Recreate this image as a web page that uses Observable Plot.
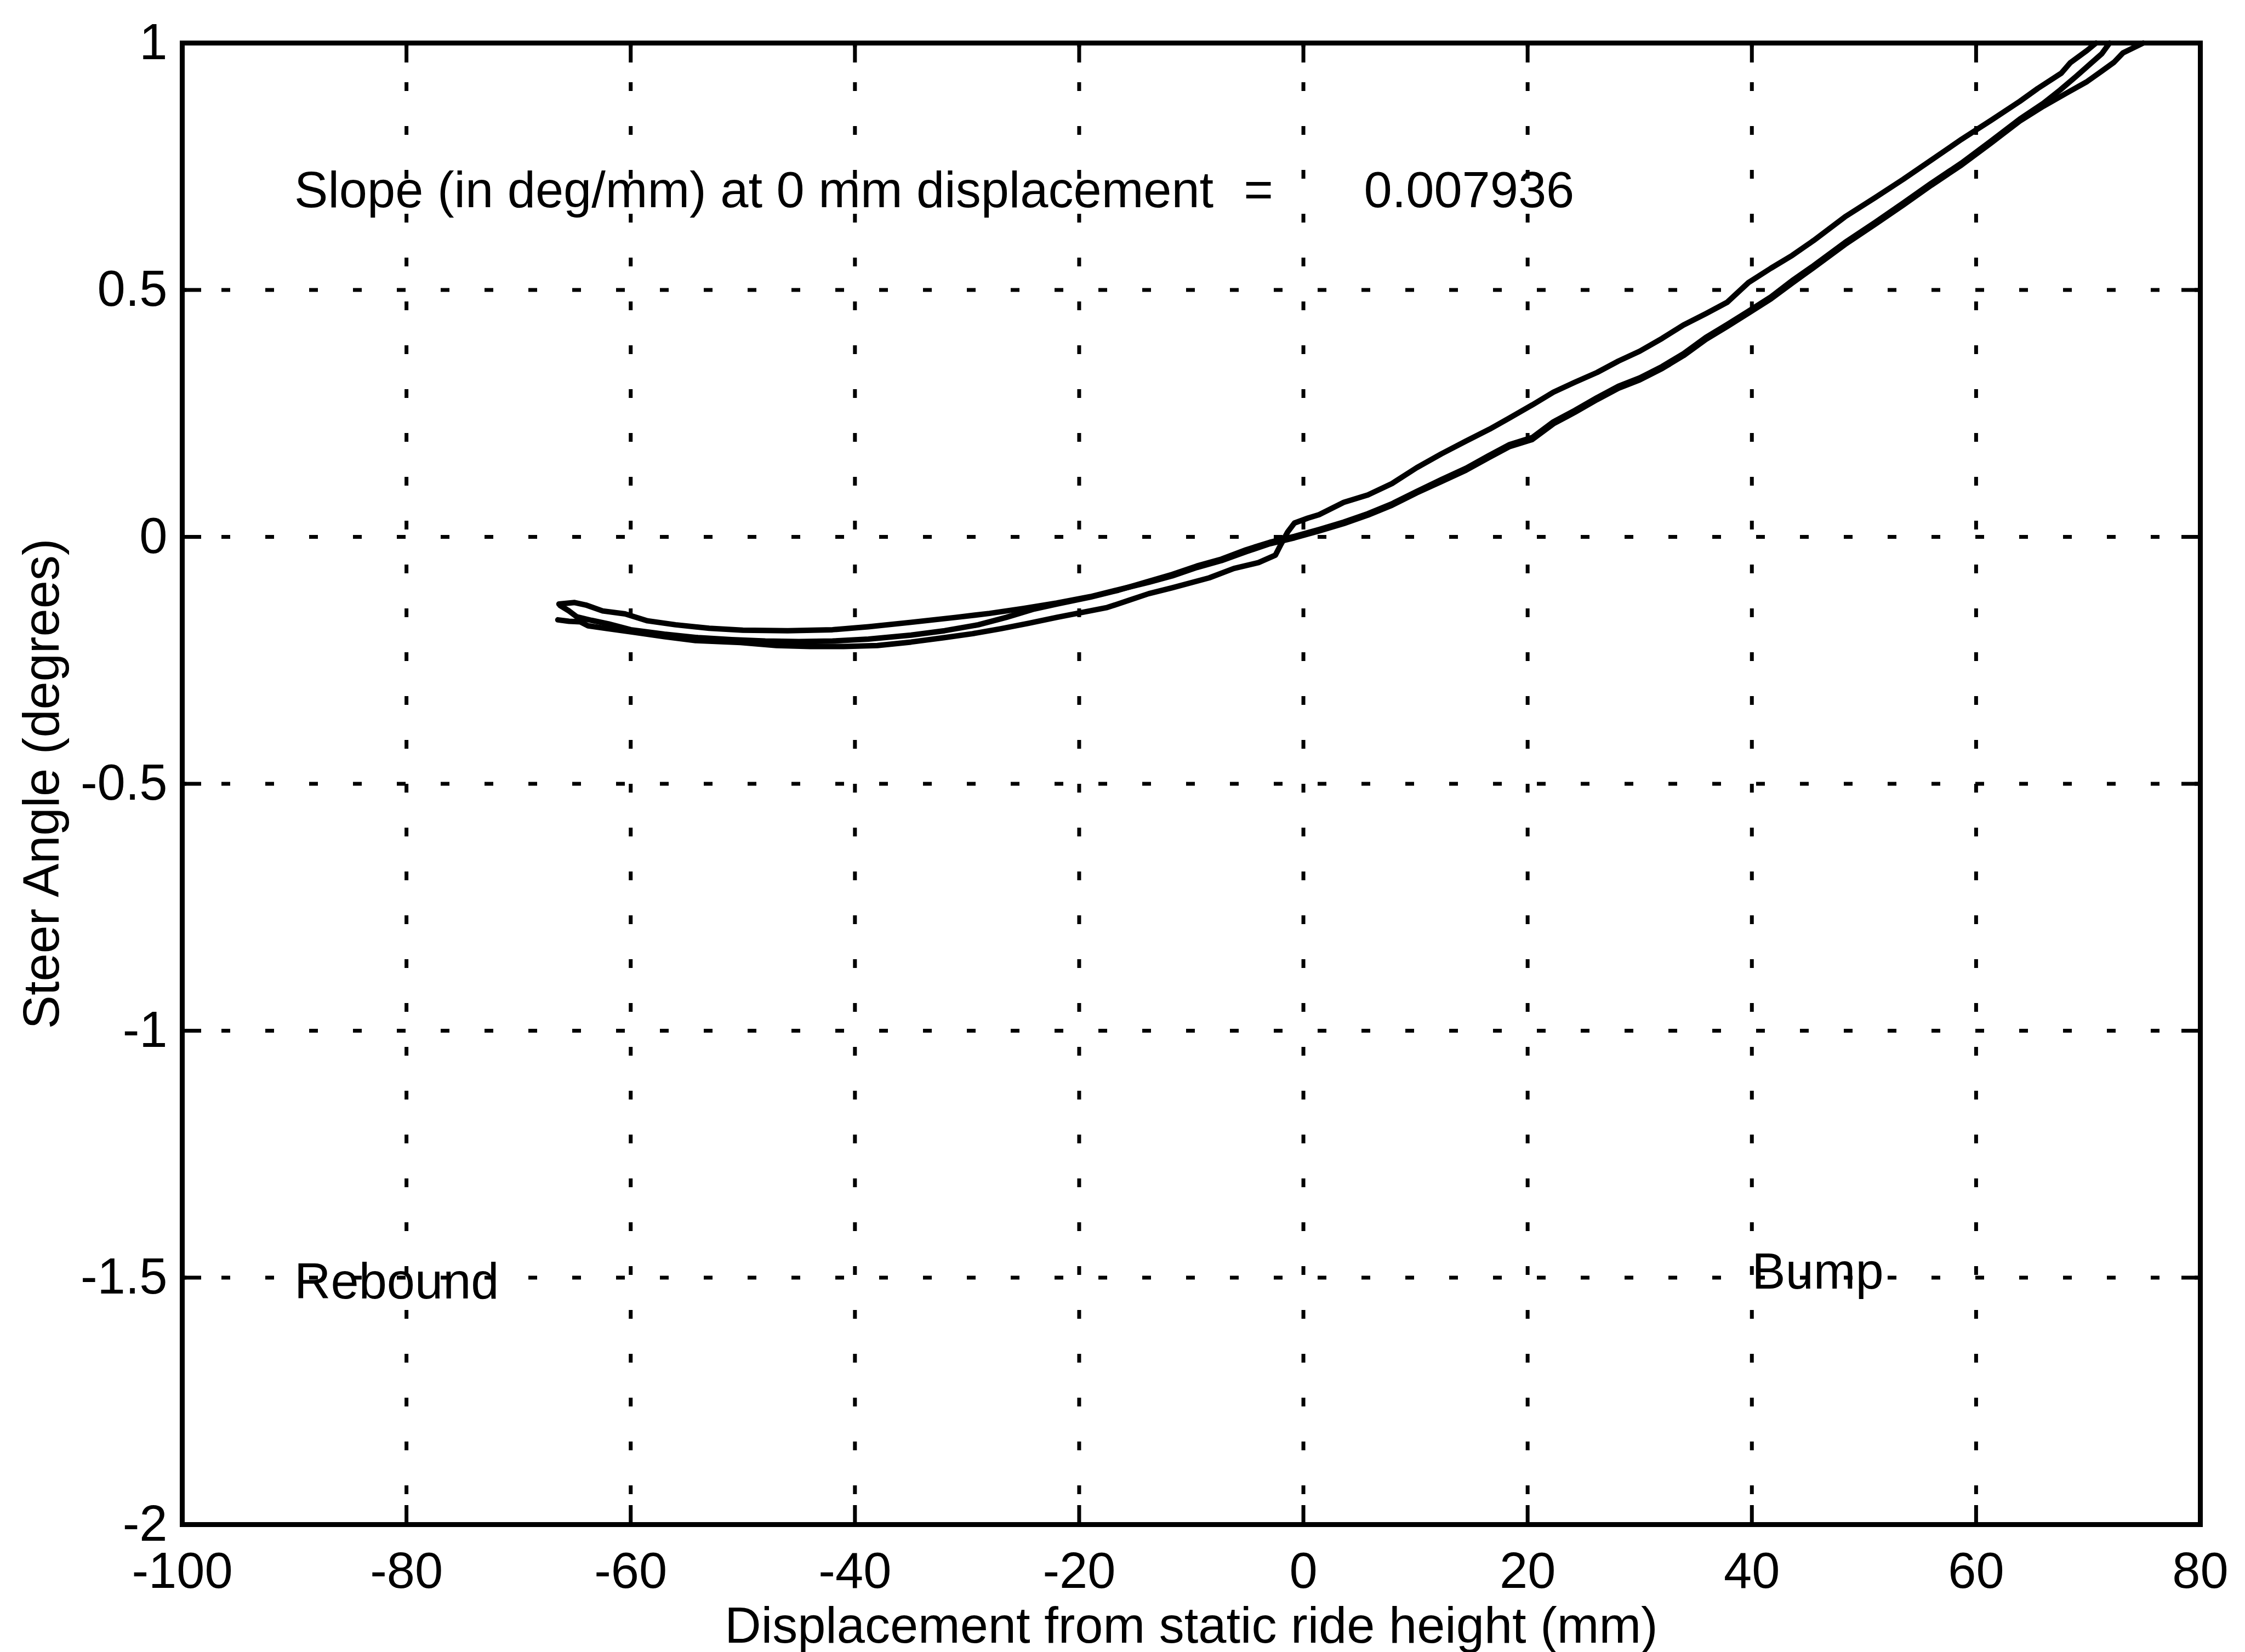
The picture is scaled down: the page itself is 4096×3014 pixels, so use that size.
<!DOCTYPE html>
<html><head><meta charset="utf-8">
<script src="https://cdn.jsdelivr.net/npm/d3@7"></script>
<script src="https://cdn.jsdelivr.net/npm/@observablehq/plot@0.6"></script>
<style>html,body{margin:0;padding:0;background:#fff;overflow:hidden}</style>
</head><body><div id="chart"></div>
<script>
// Tick values
const xTicks = [-100, -80, -60, -40, -20, 0, 20, 40, 60, 80];
const yTicks = [-2, -1.5, -1, -0.5, 0, 0.5, 1];

// Measured traces: [displacement (mm), steer angle (deg)]
const loopA = [[-66.4,-0.136],[-65,-0.133],[-64,-0.138],[-62.5,-0.150],[-60.5,-0.156],[-58.5,-0.170],[-56,-0.178],[-53,-0.185],[-50,-0.189],[-46,-0.190],[-42,-0.188],[-38.8,-0.182],[-35,-0.173],[-31,-0.163],[-28,-0.155],[-25,-0.145],[-22,-0.134],[-19,-0.121],[-16.5,-0.107],[-13.8,-0.092],[-11.7,-0.079],[-9.5,-0.062],[-7.3,-0.048],[-5.1,-0.030],[-3,-0.014],[-0.8,-0.002],[1.4,0.012],[3.6,0.027],[5.75,0.044],[7.9,0.064],[10.1,0.089],[12.3,0.112],[14.5,0.135],[16.5,0.160],[18.4,0.183],[20.4,0.197],[22.3,0.229],[24.2,0.252],[26.2,0.278],[28.1,0.301],[30,0.318],[32,0.341],[33.9,0.367],[35.9,0.400],[37.8,0.426],[39.7,0.453],[41.7,0.482],[43.6,0.514],[45.5,0.545],[48.3,0.592],[51,0.633],[53.5,0.672],[56,0.712],[58.7,0.753],[61.3,0.797],[63.9,0.842],[66,0.872],[68.1,0.899],[69.9,0.922],[71.2,0.943],[72.3,0.961],[73.1,0.980],[74.9,1.0]];
const loopB = [[-66.3,-0.139],[-65.5,-0.150],[-64.8,-0.162],[-63.5,-0.169],[-62,-0.176],[-60,-0.188],[-57,-0.197],[-54,-0.204],[-51,-0.208],[-48,-0.211],[-45,-0.212],[-42,-0.211],[-38.8,-0.207],[-35,-0.199],[-32,-0.190],[-29,-0.178],[-26.5,-0.163],[-24,-0.146],[-22,-0.136],[-19,-0.122],[-16.5,-0.108],[-13.8,-0.090],[-11.7,-0.076],[-9.5,-0.059],[-7.3,-0.045],[-5.1,-0.026],[-3,-0.011],[-0.8,0.001],[1.4,0.015],[3.6,0.030],[5.75,0.047],[7.9,0.067],[10.1,0.092],[12.3,0.116],[14.5,0.139],[16.5,0.164],[18.4,0.187],[20.4,0.201],[22.3,0.233],[24.2,0.256],[26.2,0.282],[28.1,0.305],[30,0.322],[32,0.345],[33.9,0.371],[35.9,0.404],[37.8,0.430],[39.7,0.457],[41.7,0.486],[43.6,0.519],[45.5,0.549],[48.3,0.596],[51,0.637],[53.5,0.676],[56,0.716],[58.7,0.757],[61.3,0.801],[63.9,0.846],[66,0.878],[67.5,0.905],[68.9,0.932],[70.2,0.958],[71.2,0.978],[71.9,1.0]];
const loopC = [[-66.5,-0.168],[-65.5,-0.171],[-64.5,-0.172],[-63.8,-0.180],[-62,-0.186],[-59.8,-0.193],[-57,-0.202],[-54.2,-0.210],[-50.2,-0.214],[-47,-0.220],[-44,-0.222],[-41,-0.222],[-38,-0.220],[-35,-0.213],[-32,-0.204],[-29.5,-0.196],[-27,-0.186],[-24.5,-0.175],[-22,-0.163],[-19.5,-0.152],[-17.5,-0.143],[-15.5,-0.128],[-13.8,-0.115],[-11.7,-0.103],[-8.4,-0.083],[-6.2,-0.064],[-4,-0.052],[-2.5,-0.037],[-2,-0.015],[-1.4,0.010],[-0.8,0.028],[0.4,0.038],[1.4,0.045],[3.6,0.070],[5.75,0.085],[7.9,0.108],[10.1,0.140],[12.3,0.168],[14.5,0.194],[16.6,0.218],[18.4,0.241],[20.4,0.267],[22.3,0.293],[24.2,0.313],[26.2,0.333],[28.1,0.356],[30,0.376],[32,0.402],[33.9,0.429],[35.9,0.452],[37.8,0.475],[39.7,0.515],[41.7,0.544],[43.6,0.570],[45.5,0.600],[48.3,0.648],[51,0.687],[53.5,0.724],[56,0.763],[58.7,0.805],[61.3,0.843],[63.9,0.882],[65.5,0.908],[67.6,0.939],[68.4,0.960],[69.9,0.985],[70.7,1.0]];

// Annotations
const noteText = ["Slope (in deg/mm) at 0 mm displacement", "0.007936", "Rebound", "Bump"];
const noteX = [-90, 5.4, -90, 40];
const noteY = [0.7, 0.7, -1.51, -1.49];
const eqText = ["="];
const eqX = [-4];
const eqY = [0.7];

const xLabel = "Displacement from static ride height (mm)";
const yLabel = "Steer Angle (degrees)";

const rows = [
  ...loopA.map(([x, y]) => ({run: "A", x, y})),
  ...loopB.map(([x, y]) => ({run: "B", x, y})),
  ...loopC.map(([x, y]) => ({run: "C", x, y}))
];
const notes = noteText.map((t, i) => ({t, x: noteX[i], y: noteY[i]}));
const eqs = eqText.map((t, i) => ({t, x: eqX[i], y: eqY[i]}));

const FS = 92;
const fmt = d => String(d);
const chart = Plot.plot({
  width: 4096,
  height: 3014,
  marginTop: 78,
  marginLeft: 332,
  marginRight: 82,
  marginBottom: 233,
  style: {fontFamily: "'Liberation Sans', Arial, Helvetica, sans-serif", fontSize: FS + "px", color: "black", background: "white"},
  x: {domain: [-100, 80]},
  y: {domain: [-2, 1]},
  marks: [
    Plot.gridX(xTicks.slice(1, -1), {stroke: "black", strokeOpacity: 1, strokeWidth: 7, strokeDasharray: "16,64", strokeDashoffset: 8}),
    Plot.gridY(yTicks.slice(1, -1), {stroke: "black", strokeOpacity: 1, strokeWidth: 7, strokeDasharray: "16,64", strokeDashoffset: 8}),
    Plot.line(rows, {x: "x", y: "y", z: "run", stroke: "black", strokeWidth: 10, strokeLinejoin: "round", strokeLinecap: "round"}),
    Plot.frame({stroke: "black", strokeWidth: 9}),
    Plot.axisX(xTicks, {anchor: "bottom", tickSize: -35, tickPadding: 85, strokeWidth: 7, tickFormat: fmt, fontSize: FS, label: xLabel, labelAnchor: "center", labelOffset: 215, labelArrow: "none"}),
    Plot.axisX(xTicks, {anchor: "top", tickSize: -35, strokeWidth: 7, tickFormat: () => "", label: null}),
    Plot.axisY(yTicks, {anchor: "left", tickSize: -35, tickPadding: 62, strokeWidth: 7, tickFormat: fmt, fontSize: FS, label: yLabel, labelAnchor: "center", labelOffset: 291, labelArrow: "none"}),
    Plot.axisY(yTicks, {anchor: "right", tickSize: -35, strokeWidth: 7, tickFormat: () => "", label: null}),
    Plot.text(notes, {x: "x", y: "y", text: "t", textAnchor: "start", fontSize: FS, fill: "black"}),
    Plot.text(eqs, {x: "x", y: "y", text: "t", textAnchor: "middle", fontSize: FS, fill: "black"})
  ]
});
document.getElementById("chart").appendChild(chart);
</script>
</body></html>
